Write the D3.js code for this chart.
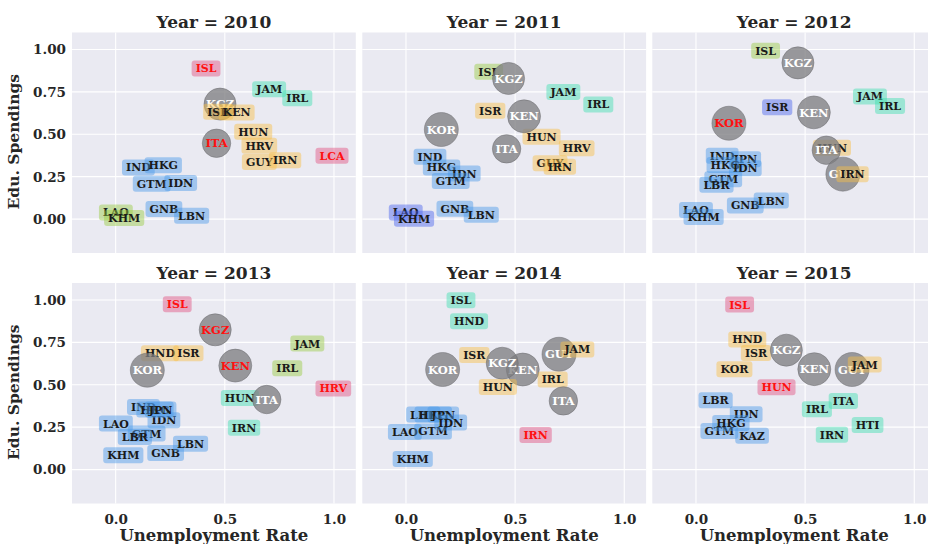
<!DOCTYPE html>
<html>
<head>
<meta charset="utf-8">
<script src="https://cdn.jsdelivr.net/npm/d3@7"></script>
<style>
  html, body { margin: 0; padding: 0; background: #ffffff; }
  svg { display: block; }
  text { font-family: "DejaVu Serif", "Liberation Serif", serif; font-weight: bold; }
</style>
</head>
<body>
<svg id="chart" width="928" height="544"></svg>
<script>
// ---------------- DATA ----------------
const years = [2010, 2011, 2012, 2013, 2014, 2015];
const xTicks = [0.0, 0.5, 1.0];
const yTicks = [0.00, 0.25, 0.50, 0.75, 1.00];
const xLabel = "Unemployment Rate";
const yLabel = "Edu. Spendings";

// group: cluster id (A blue, B green, C teal, D yellow, E pink, F purple, G bubble)
// hl: 1 = highlighted (red text)
// [code, unemployment, eduSpending, group, hl]
const data2010 = [
  ["LAO", 0.001, 0.039, "B", 0], ["KHM", 0.039, 0.006, "B", 0],
  ["GNB", 0.221, 0.059, "A", 0], ["LBN", 0.348, 0.019, "A", 0],
  ["IND", 0.104, 0.304, "A", 0], ["HKG", 0.218, 0.318, "A", 0],
  ["GTM", 0.165, 0.209, "A", 0], ["IDN", 0.298, 0.212, "A", 0],
  ["ISL", 0.414, 0.888, "E", 1], ["JAM", 0.703, 0.765, "C", 0],
  ["IRL", 0.832, 0.712, "C", 0], ["KGZ", 0.478, 0.678, "G", 0],
  ["ISR", 0.470, 0.633, "D", 0], ["KEN", 0.554, 0.629, "D", 0],
  ["HUN", 0.630, 0.515, "D", 0], ["ITA", 0.462, 0.447, "G", 1],
  ["HRV", 0.658, 0.433, "D", 0], ["GUY", 0.658, 0.337, "D", 0],
  ["IRN", 0.776, 0.347, "D", 0], ["LCA", 0.991, 0.374, "E", 1]
];
const data2011 = [
  ["LAO", -0.001, 0.039, "F", 0], ["KHM", 0.037, 0.002, "F", 0],
  ["GNB", 0.224, 0.061, "A", 0], ["LBN", 0.345, 0.025, "A", 0],
  ["IND", 0.110, 0.368, "A", 0], ["HKG", 0.163, 0.304, "A", 0],
  ["IDN", 0.267, 0.268, "A", 0], ["GTM", 0.205, 0.225, "A", 0],
  ["ISL", 0.379, 0.868, "B", 0], ["KGZ", 0.470, 0.829, "G", 0],
  ["JAM", 0.721, 0.749, "C", 0], ["IRL", 0.881, 0.676, "C", 0],
  ["ISR", 0.386, 0.639, "D", 0], ["KOR", 0.162, 0.528, "G", 0],
  ["HUN", 0.621, 0.486, "D", 0], ["KEN", 0.541, 0.606, "G", 0],
  ["ITA", 0.461, 0.414, "G", 0], ["HRV", 0.782, 0.418, "D", 0],
  ["GUY", 0.660, 0.329, "D", 0], ["IRN", 0.705, 0.309, "D", 0]
];
const data2012 = [
  ["LAO", 0.000, 0.053, "A", 0], ["KHM", 0.035, 0.012, "A", 0],
  ["GNB", 0.226, 0.080, "A", 0], ["LBN", 0.345, 0.109, "A", 0],
  ["IND", 0.120, 0.374, "A", 0], ["JPN", 0.226, 0.353, "A", 0],
  ["HKG", 0.134, 0.319, "A", 0], ["IDN", 0.226, 0.300, "A", 0],
  ["GTM", 0.125, 0.235, "A", 0], ["LBR", 0.094, 0.202, "A", 0],
  ["ISL", 0.319, 0.992, "B", 0], ["KGZ", 0.467, 0.921, "G", 0],
  ["JAM", 0.797, 0.723, "C", 0], ["IRL", 0.889, 0.666, "C", 0],
  ["ISR", 0.372, 0.659, "F", 0], ["KEN", 0.540, 0.629, "G", 0],
  ["KOR", 0.151, 0.565, "G", 1], ["HUN", 0.623, 0.421, "D", 0],
  ["ITA", 0.597, 0.406, "G", 0], ["GUY", 0.673, 0.265, "G", 0],
  ["IRN", 0.717, 0.265, "D", 0]
];
const data2013 = [
  ["KHM", 0.035, 0.084, "A", 0], ["GNB", 0.229, 0.098, "A", 0],
  ["LBN", 0.343, 0.153, "A", 0], ["LAO", 0.001, 0.271, "A", 0],
  ["GTM", 0.142, 0.212, "A", 0], ["LBR", 0.088, 0.192, "A", 0],
  ["IDN", 0.221, 0.291, "A", 0], ["IND", 0.127, 0.369, "A", 0],
  ["HKG", 0.180, 0.354, "A", 0], ["JPN", 0.206, 0.354, "A", 0],
  ["ISL", 0.282, 0.975, "E", 1], ["KGZ", 0.456, 0.824, "G", 1],
  ["JAM", 0.878, 0.743, "B", 0], ["HND", 0.203, 0.686, "D", 0],
  ["ISR", 0.333, 0.686, "D", 0], ["KOR", 0.145, 0.586, "G", 0],
  ["KEN", 0.548, 0.613, "G", 1], ["IRL", 0.786, 0.598, "B", 0],
  ["HRV", 0.997, 0.478, "E", 1], ["HUN", 0.569, 0.422, "C", 0],
  ["ITA", 0.692, 0.413, "G", 0], ["IRN", 0.588, 0.246, "C", 0]
];
const data2014 = [
  ["KHM", 0.031, 0.063, "A", 0], ["LAO", -0.005, 0.222, "A", 0],
  ["GTM", 0.124, 0.225, "A", 0], ["LBR", 0.079, 0.324, "A", 0],
  ["HKG", 0.125, 0.324, "A", 0], ["JPN", 0.171, 0.324, "A", 0],
  ["IDN", 0.205, 0.277, "A", 0],
  ["ISL", 0.252, 0.999, "C", 0], ["HND", 0.289, 0.875, "C", 0],
  ["ISR", 0.313, 0.676, "D", 0], ["KOR", 0.168, 0.590, "G", 0],
  ["KEN", 0.535, 0.590, "G", 0], ["KGZ", 0.441, 0.627, "G", 0],
  ["GUY", 0.701, 0.680, "G", 0], ["JAM", 0.785, 0.708, "D", 0],
  ["IRL", 0.672, 0.531, "D", 0], ["HUN", 0.421, 0.487, "D", 0],
  ["ITA", 0.721, 0.405, "G", 0], ["IRN", 0.594, 0.204, "E", 1]
];
const data2015 = [
  ["ISL", 0.200, 0.973, "E", 1], ["HND", 0.235, 0.767, "D", 0],
  ["ISR", 0.275, 0.688, "D", 0], ["KOR", 0.176, 0.592, "D", 0],
  ["KGZ", 0.414, 0.704, "G", 0], ["KEN", 0.542, 0.592, "G", 0],
  ["GUY", 0.715, 0.590, "G", 0], ["JAM", 0.773, 0.619, "D", 0],
  ["HUN", 0.369, 0.486, "E", 1], ["LBR", 0.090, 0.409, "A", 0],
  ["ITA", 0.675, 0.405, "C", 0], ["IRL", 0.554, 0.356, "C", 0],
  ["IDN", 0.230, 0.326, "A", 0], ["GTM", 0.107, 0.228, "A", 0],
  ["HKG", 0.160, 0.275, "A", 0], ["KAZ", 0.257, 0.200, "A", 0],
  ["HTI", 0.786, 0.263, "C", 0], ["IRN", 0.623, 0.206, "C", 0]
];
const yearData = [data2010, data2011, data2012, data2013, data2014, data2015];

// bubble magnitude for highlighted (circle) countries
const bubbleCountries = ["ITA", "KGZ", "KEN", "KOR", "GUY"];
const bubbleValues = [0.70, 0.89, 0.94, 1.00, 1.00];

const groupIds = ["A", "B", "C", "D", "E", "F"];

// ---------------- LAYOUT / STYLE ----------------
const W = 928, H = 544;
const panelW = 283.8, panelH = 220.5;
const colLeft = [72.0, 362.3, 652.3];
const rowTop = [32.5, 283.0];
const bg = "#EAEAF2";
const groupColors = d3.scaleOrdinal()
  .domain(groupIds)
  .range(["#4a98e8", "#9acd40", "#3ee0b0", "#f9be45", "#e2507e", "#4a64ee"]);
const rScale = d3.scaleSqrt().domain([0, 1]).range([0, 17]);
const bubbleMap = new Map(bubbleCountries.map((c, i) => [c, bubbleValues[i]]));

const svg = d3.select("#chart");
svg.append("rect").attr("width", W).attr("height", H).attr("fill", "#fff");

years.forEach((yr, i) => {
  const col = i % 3, row = Math.floor(i / 3);
  const x = d3.scaleLinear().domain([-0.2, 1.1]).range([0, panelW]);
  const y = d3.scaleLinear().domain([-0.2, 1.1]).range([panelH, 0]);
  const g = svg.append("g").attr("transform", `translate(${colLeft[col]},${rowTop[row]})`);

  g.append("rect").attr("width", panelW).attr("height", panelH).attr("fill", bg);

  // grid
  g.append("g").selectAll("line").data(xTicks).join("line")
    .attr("x1", d => x(d)).attr("x2", d => x(d))
    .attr("y1", 0).attr("y2", panelH)
    .attr("stroke", "#fff").attr("stroke-width", 1.1);
  g.append("g").selectAll("line").data(yTicks).join("line")
    .attr("y1", d => y(d)).attr("y2", d => y(d))
    .attr("x1", 0).attr("x2", panelW)
    .attr("stroke", "#fff").attr("stroke-width", 1.1);

  // title
  g.append("text").attr("x", panelW / 2).attr("y", -4.5)
    .attr("text-anchor", "middle").attr("font-size", 17).attr("fill", "#262626")
    .text(`Year = ${yr}`);

  // axes labels
  if (row === 1) {
    const ax = g.append("g").attr("transform", `translate(0,${panelH})`)
      .call(d3.axisBottom(x).tickValues(xTicks).tickFormat(d3.format(".1f")).tickSize(0).tickPadding(11));
    ax.select(".domain").remove();
    ax.selectAll("text").attr("font-size", 13.5).attr("fill", "#262626")
      .attr("font-family", '"DejaVu Serif", serif').attr("font-weight", "bold");
    g.append("text").attr("x", panelW / 2).attr("y", panelH + 37)
      .attr("text-anchor", "middle").attr("font-size", 16.5).attr("fill", "#262626")
      .text(xLabel);
  }
  if (col === 0) {
    const ay = g.append("g")
      .call(d3.axisLeft(y).tickValues(yTicks).tickFormat(d3.format(".2f")).tickSize(0).tickPadding(6));
    ay.select(".domain").remove();
    ay.selectAll("text").attr("font-size", 13.5).attr("fill", "#262626")
      .attr("font-family", '"DejaVu Serif", serif').attr("font-weight", "bold");
    g.append("text")
      .attr("transform", `translate(${-53},${panelH / 2 - 1}) rotate(-90)`)
      .attr("text-anchor", "middle").attr("font-size", 15.5).attr("fill", "#262626")
      .text(yLabel);
  }

  // marks
  const items = yearData[i].map(d => ({code: d[0], ux: d[1], uy: d[2], grp: d[3], hl: d[4]}));
  const marks = g.append("g").selectAll("g").data(items).join("g")
    .attr("transform", d => `translate(${x(d.ux)},${y(d.uy)})`);

  marks.each(function(d) {
    const m = d3.select(this);
    if (d.grp === "G") {
      m.append("circle").attr("r", rScale(bubbleMap.get(d.code)))
        .attr("fill", "#7d7d80").attr("fill-opacity", 0.76)
        .attr("stroke", "#6a6a6e").attr("stroke-opacity", 0.6).attr("stroke-width", 0.8);
      m.append("text").attr("text-anchor", "middle").attr("dy", "0.36em")
        .attr("font-size", 11.5).attr("fill", d.hl ? "#ff1010" : "#ffffff")
        .text(d.code);
    } else {
      const rect = m.append("rect");
      const t = m.append("text").attr("text-anchor", "middle").attr("dy", "0.36em")
        .attr("font-size", 11).attr("fill", d.hl ? "#ff1010" : "#1a1a1a")
        .text(d.code);
      const tw = t.node().getComputedTextLength();
      const bw = tw + 8, bh = 16;
      rect.attr("x", -bw / 2).attr("y", -bh / 2).attr("width", bw).attr("height", bh)
        .attr("rx", 3).attr("ry", 3)
        .attr("fill", groupColors(d.grp)).attr("fill-opacity", 0.45);
    }
  });
});
</script>
</body>
</html>
